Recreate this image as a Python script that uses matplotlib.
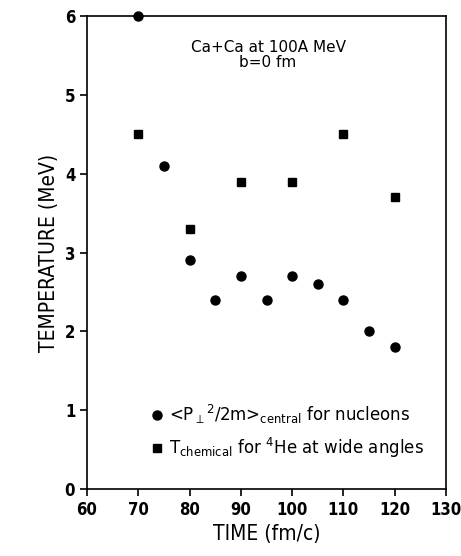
import numpy as np
import matplotlib.pyplot as plt

# datos
t_nucleones = [70, 75, 80, 85, 90, 95, 100, 105, 110, 115, 120]
T_nucleones = [6.0, 4.1, 2.9, 2.4, 2.7, 2.4, 2.7, 2.6, 2.4, 2.0, 1.8]
t_helio = [70, 80, 90, 100, 110, 120]
T_helio = [4.5, 3.3, 3.9, 3.9, 4.5, 3.7]

x_ticks = [60, 70, 80, 90, 100, 110, 120, 130]
y_ticks = [0, 1, 2, 3, 4, 5, 6]

fig = plt.figure(figsize=(4.61, 5.56), dpi=100)
ax = fig.add_axes([87/461, 1-489/556, (446-87)/461, (489-16)/556])

ax.plot(t_nucleones, T_nucleones, 'o', color='black', markersize=6.5,
        label=r'<P$_\perp$$^2$/2m>$_{\rm central}$ for nucleons', clip_on=False)
ax.plot(t_helio, T_helio, 's', color='black', markersize=6,
        label=r'T$_{\rm chemical}$ for $^4$He at wide angles', clip_on=False)

ax.set_xlim(60, 130)
ax.set_ylim(0, 6)
ax.set_xticks(x_ticks)
ax.set_yticks(y_ticks)
ax.tick_params(direction='out', length=5, width=1.2, labelsize=12)
for lab in ax.get_xticklabels() + ax.get_yticklabels():
    lab.set_fontweight('bold')
    lab.set_fontstretch('condensed')
for s in ax.spines.values():
    s.set_linewidth(1.2)

ax.set_xlabel('TIME (fm/c)', fontsize=15, fontstretch='condensed')
ax.set_ylabel('TEMPERATURE (MeV)', fontsize=15, fontstretch='condensed')

ax.text(95.3, 5.5, 'Ca+Ca at 100A MeV\nb=0 fm', ha='center', va='center',
        fontsize=11, linespacing=1.0)

ax.legend(loc='lower left', bbox_to_anchor=(0.13, 0.03), frameon=False,
          handletextpad=0.2, handlelength=1.0, fontsize=12, labelspacing=0.6)

plt.savefig('out.png', dpi=100)
